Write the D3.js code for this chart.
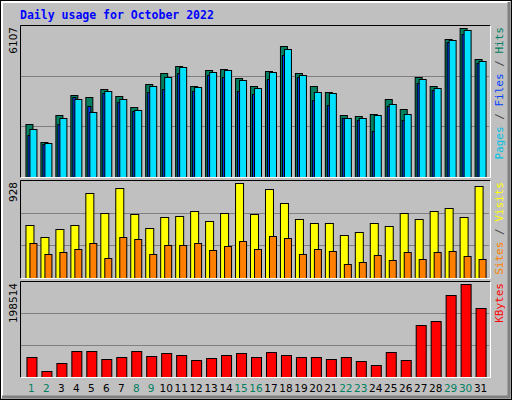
<!DOCTYPE html>
<html><head><meta charset="utf-8">
<script src="https://cdn.jsdelivr.net/npm/d3@7"></script>
<style>body{margin:0;background:#fff}</style>
</head><body>
<script>
// day labels and weekends
var days = d3.range(1, 32)
var weekend = [1, 2, 8, 9, 15, 16, 22, 23, 29, 30]

var hits = [2170,1423,2543,3372,3289,3621,3331,2875,3828,4243,4533,3745,4381,4409,4077,3745,4339,5362,4243,3745,3496,2543,2501,2584,3178,2792,4118,3745,5652,6107,4823]
var files = [1962,1382,2418,3206,2667,3538,3206,2750,3745,4118,4491,3704,4284,4367,3994,3662,4284,5238,4201,3496,3455,2418,2418,2543,2999,2584,4035,3662,5611,6025,4740]
var pages = [1714,1340,2170,3289,2916,3455,3082,2709,3496,3621,4243,3538,4201,4118,3538,3413,4035,4989,4118,3164,2957,2418,2335,1879,2916,2335,3869,3579,5528,5859,4657]
var visits = [514,403,474,514,827,635,877,625,484,595,605,656,555,635,928,625,867,736,575,535,535,424,454,535,504,635,575,656,686,595,898]
var sites = [343,232,252,282,343,192,403,383,232,323,323,343,272,313,363,282,414,393,232,282,262,141,161,222,171,252,182,252,262,212,182]
var kbytes = [43632,13090,30542,54540,54540,39269,43632,54540,45814,50177,47995,37087,41450,47995,50177,43632,52359,47995,43632,43632,39269,43632,34906,26179,52359,37087,111262,119988,174528,198514,148349]

var W = 512, H = 400
var svg = d3.select('body').append('svg').attr('width', W).attr('height', H)
    .style('font-family', '"DejaVu Sans Mono", monospace')

// frame
svg.append('rect').attr('x', 0.5).attr('y', 0.5).attr('width', W - 1).attr('height', H - 1).attr('fill', '#C0C0C0').attr('stroke', '#000')
svg.append('path').attr('d', 'M2,398 V2 H510').attr('fill', 'none').attr('stroke', '#fff').attr('stroke-width', 2)
svg.append('path').attr('d', 'M2,397 H509 V2').attr('fill', 'none').attr('stroke', '#808080').attr('stroke-width', 3)

svg.append('text').attr('x', 20).attr('y', 19).text('Daily usage for October 2022')
    .attr('fill', '#0000FF').attr('font-weight', 'bold').attr('font-size', 11.5)

var x = d3.scaleBand().domain(days).range([20, 485]).paddingInner(0).paddingOuter(0.03)

function panel(top, bottom, max, label, legend, series) {
    var y = d3.scaleLinear().domain([0, max]).range([bottom, top + 3])
    svg.append('rect').attr('x', 20).attr('y', top).attr('width', 470).attr('height', bottom - top)
        .attr('fill', '#C0C0C0')
    var h = bottom - top
    ;[1, 2].forEach(function(i) {
        var gy = Math.round(bottom - h * i / 3) + 0.5
        svg.append('line').attr('x1', 21).attr('x2', 489).attr('y1', gy).attr('y2', gy).attr('stroke', '#808080')
    })
    series.forEach(function(s) {
        svg.append('g').selectAll('rect').data(s.data).enter().append('rect')
            .attr('x', function(d, i) { return x(days[i]) + s.off + 0.5 })
            .attr('y', function(d) { return Math.round(y(d)) + 0.5 })
            .attr('width', s.w)
            .attr('height', function(d) { return bottom - Math.round(y(d)) })
            .attr('fill', s.color).attr('stroke', '#000')
    })
    svg.append('path').attr('d', 'M20.5,' + (bottom + 0.5) + ' V' + (top + 0.5) + ' H490.5')
        .attr('fill', 'none').attr('stroke', '#000')
    svg.append('path').attr('d', 'M20.5,' + (bottom + 0.5) + ' H490.5 V' + (top + 0.5))
        .attr('fill', 'none').attr('stroke', '#fff')
    svg.append('text').attr('transform', 'translate(17,' + (top + 2) + ') rotate(-90)')
        .attr('text-anchor', 'end').attr('font-size', 10.5).attr('font-family', '"DejaVu Sans", sans-serif')
        .attr('fill', '#000').text(label)
    var t = svg.append('text').attr('transform', 'translate(503,' + (top + 2) + ') rotate(-90)')
        .attr('text-anchor', 'end').attr('font-size', 11)
    legend.forEach(function(p) { t.append('tspan').attr('fill', p[1]).text(p[0]) })
}

panel(25, 177, 6107, '6107',
    [['Pages', '#00C0E0'], [' / ', '#404040'], ['Files', '#0040FF'], [' / ', '#404040'], ['Hits', '#008060']],
    [{ data: hits, off: 5, w: 7, color: '#008060' },
     { data: pages, off: 7, w: 3, color: '#0040FF' },
     { data: files, off: 9, w: 7, color: '#00E0FF' }])

panel(180, 278, 928, '928',
    [['Sites', '#FF8000'], [' / ', '#404040'], ['Visits', '#FFFF00']],
    [{ data: visits, off: 5, w: 8, color: '#FFFF00' },
     { data: sites, off: 9, w: 7, color: '#FF8000' }])

panel(281, 377, 198514, '198514',
    [['KBytes', '#FF0000']],
    [{ data: kbytes, off: 6, w: 10, color: '#FF0000' }])

svg.append('g').selectAll('text').data(days).enter().append('text')
    .attr('x', function(d) { return x(d) + 11 })
    .attr('y', 392).attr('text-anchor', 'middle').attr('font-size', 10.5)
    .attr('font-family', '"DejaVu Sans", sans-serif')
    .attr('fill', function(d) { return weekend.indexOf(d) >= 0 ? '#008060' : '#000' })
    .text(function(d) { return d })
</script>
</body></html>
